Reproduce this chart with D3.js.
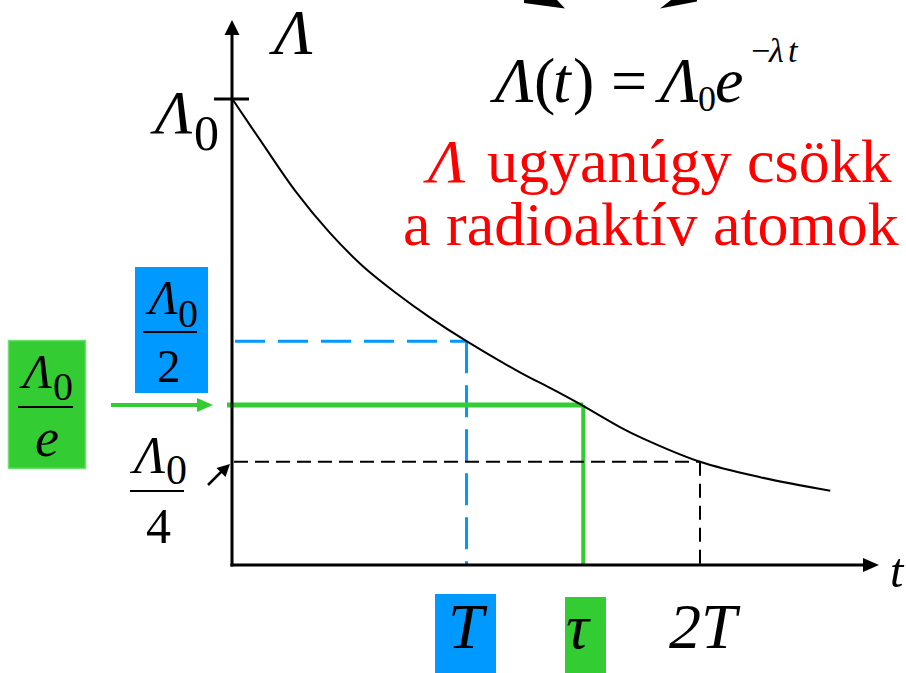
<!DOCTYPE html>
<html>
<head>
<meta charset="utf-8">
<script src="https://cdn.jsdelivr.net/npm/d3@7/dist/d3.min.js"></script>
<style>
  html, body { margin: 0; padding: 0; background: #fff; overflow: hidden; }
  #wrap { position: relative; width: 906px; height: 673px; overflow: hidden; }
  #chart { position: absolute; left: 0; top: 0; display: block; }
  #labels { position: absolute; left: 0; top: 0; width: 906px; height: 673px; overflow: hidden; pointer-events: none; }
</style>
</head>
<body>
<div id="wrap">
  <svg id="chart" width="906" height="673"></svg>
  <div id="labels"></div>
</div>
<script>
// Activity decay curve: time in units of the half-life T, activity relative to Λ0
const curveT = [0, 0.126, 0.269, 0.412, 0.555, 0.698, 0.841, 1.0, 1.227, 1.370, 1.492, 1.657, 1.757, 2.0, 2.258, 2.558];
const curveL = [1.0, 0.910, 0.810, 0.726, 0.656, 0.600, 0.550, 0.5, 0.436, 0.400, 0.368, 0.322, 0.298, 0.25, 0.218, 0.190];

// Reference times on the t axis and the matching activity levels
const markNames = ["T", "τ", "2T"];
const markTimes = [1, 1.5, 2];
const markLevels = [0.5, 0.368, 0.25];

const svg = d3.select("#chart");
const layer = d3.select("#labels");
const W = 906, H = 673;
svg.append("rect").attr("width", W).attr("height", H).attr("fill", "#fff");

// Serif labels placed by their baseline origin. Large sizes are set at a
// smaller font size and scaled up.
function label(xPos, yPos, size, str, opts = {}) {
  const base = Math.min(size, 34);
  const k = size / base;
  const holder = layer.append("div")
    .style("position", "absolute")
    .style("left", xPos + "px").style("top", yPos + "px")
    .style("width", "0px").style("height", "0px")
    .style("transform-origin", "0 0")
    .style("transform", `scale(${k})`);
  const span = holder.append("span")
    .style("position", "absolute").style("left", "0px").style("top", "0px")
    .style("font-family", '"Liberation Serif"')
    .style("font-size", base + "px")
    .style("line-height", "normal")
    .style("font-style", opts.italic ? "italic" : "normal")
    .style("color", opts.fill || "#000")
    .style("white-space", "nowrap")
    .text(str);
  const probe = span.append("span")
    .style("display", "inline-block").style("width", "0px").style("height", "0px");
  const baselineOffset = probe.node().offsetTop;
  span.style("top", (-baselineOffset) + "px");
  return holder;
}

const x = d3.scaleLinear().domain([0, 2]).range([233, 700]);
const y = d3.scaleLinear().domain([0, 1]).range([582.4, 100]);
const axisY = 565;
const axisX = x(0) - 1;

const green = "#33cc33", blue = "#0099ff";

// curved arrow tips entering from above
svg.append("path").attr("d", "M524,0 L557,0 L565,8.5 L524,3 Z").attr("fill", "#000");
svg.append("path").attr("d", "M660,8.5 L671,0 L697,0 L697,1.5 Z").attr("fill", "#000");

// half-life (blue dashed)
svg.append("line")
  .attr("x1", axisX + 3).attr("x2", x(markTimes[0]))
  .attr("y1", y(markLevels[0])).attr("y2", y(markLevels[0]))
  .attr("stroke", blue).attr("stroke-width", 3).attr("stroke-dasharray", "30,13");
svg.append("line")
  .attr("x1", x(markTimes[0])).attr("x2", x(markTimes[0]))
  .attr("y1", y(markLevels[0])).attr("y2", axisY)
  .attr("stroke", blue).attr("stroke-width", 3).attr("stroke-dasharray", "32,12");
// mean lifetime (green solid)
svg.append("line")
  .attr("x1", 227).attr("x2", x(markTimes[1]))
  .attr("y1", y(markLevels[1])).attr("y2", y(markLevels[1]))
  .attr("stroke", green).attr("stroke-width", 5);
svg.append("line")
  .attr("x1", x(markTimes[1])).attr("x2", x(markTimes[1]))
  .attr("y1", y(markLevels[1])).attr("y2", axisY)
  .attr("stroke", green).attr("stroke-width", 4);
// two half-lives (black dashed)
svg.append("line")
  .attr("x1", axisX + 2).attr("x2", x(markTimes[2]))
  .attr("y1", y(markLevels[2])).attr("y2", y(markLevels[2]))
  .attr("stroke", "#000").attr("stroke-width", 2).attr("stroke-dasharray", "14,7");
svg.append("line")
  .attr("x1", x(markTimes[2])).attr("x2", x(markTimes[2]))
  .attr("y1", y(markLevels[2])).attr("y2", axisY)
  .attr("stroke", "#000").attr("stroke-width", 2).attr("stroke-dasharray", "14,8");

// decay curve
const line = d3.line().x(d => x(d[0])).y(d => y(d[1])).curve(d3.curveCatmullRom.alpha(0.5));
svg.append("path")
  .datum(curveT.map((t, i) => [t, curveL[i]]))
  .attr("d", line)
  .attr("fill", "none").attr("stroke", "#000").attr("stroke-width", 2);

// axes with arrowheads
svg.append("line").attr("x1", axisX).attr("x2", axisX).attr("y1", axisY + 1.5).attr("y2", 32)
  .attr("stroke", "#000").attr("stroke-width", 3);
svg.append("path").attr("d", `M${axisX},20 L${axisX - 7.5},35 L${axisX + 7.5},35 Z`).attr("fill", "#000");
svg.append("line").attr("x1", axisX - 1.5).attr("x2", 866).attr("y1", axisY).attr("y2", axisY)
  .attr("stroke", "#000").attr("stroke-width", 3);
svg.append("path").attr("d", `M879,${axisY} L863,${axisY - 7} L863,${axisY + 7} Z`).attr("fill", "#000");

// Λ0 tick
svg.append("line").attr("x1", 214).attr("x2", 249).attr("y1", y(1) - 1).attr("y2", y(1) - 1)
  .attr("stroke", "#000").attr("stroke-width", 3);

// label boxes behind the fractions and time marks
const levelBoxes = [[135, 267, 73, 126, blue, "none"], [8.5, 340.5, 77, 128, green, "#6fe06f"]];
levelBoxes.forEach(b => {
  svg.append("rect").attr("x", b[0]).attr("y", b[1]).attr("width", b[2]).attr("height", b[3])
    .attr("fill", b[4]).attr("stroke", b[5]).attr("stroke-width", 1.5);
});
const tBoxes = [[435, 594, 61, 79], [565, 597, 41, 76], null];
tBoxes.forEach((b, i) => {
  if (b) svg.append("rect").attr("x", b[0]).attr("y", b[1]).attr("width", b[2]).attr("height", b[3])
    .attr("fill", i === 0 ? blue : green);
});

// fraction bars
const fracBars = [[143, 197, 332], [18, 73, 407], [130, 184, 491]];
fracBars.forEach(b => {
  svg.append("line").attr("x1", b[0]).attr("x2", b[1]).attr("y1", b[2]).attr("y2", b[2])
    .attr("stroke", "#000").attr("stroke-width", 2);
});

// arrows pointing at the axis levels
svg.append("line").attr("x1", 111).attr("x2", 200).attr("y1", y(markLevels[1])).attr("y2", y(markLevels[1]))
  .attr("stroke", green).attr("stroke-width", 4);
svg.append("path").attr("d", `M213,${y(markLevels[1])} L197,${y(markLevels[1]) - 7} L197,${y(markLevels[1]) + 7} Z`)
  .attr("fill", green);
svg.append("line").attr("x1", 208).attr("y1", 485).attr("x2", 222).attr("y2", 471)
  .attr("stroke", "#000").attr("stroke-width", 2.5);
svg.append("path").attr("d", "M230,464 L225.5,477 L216.5,468 Z").attr("fill", "#000");

// Λ with subscript 0
function lambda0(lx, base, fs, subX, subBase, subFs) {
  label(lx, base, fs, "Λ", { italic: true });
  label(subX, subBase, subFs, "0");
}

// axis labels
label(274, 54, 64, "Λ", { italic: true });
label(890, 587, 48, "t", { italic: true });
lambda0(155, 133, 62, 194, 150, 50);

// formula Λ(t) = Λ0 e^(−λt)
label(495, 102, 64, "Λ", { italic: true });
label(534, 102, 64, "(");
label(553, 102, 64, "t", { italic: true });
label(573, 102, 64, ")");
label(611, 102, 64, "=");
label(660, 102, 64, "Λ", { italic: true });
label(698, 111, 36, "0");
label(715, 102, 64, "e", { italic: true });
label(751, 62, 34, "−");
label(769, 62, 34, "λ", { italic: true });
label(788, 62, 34, "t", { italic: true });

// red statement
label(428, 182, 62, "Λ", { italic: true, fill: "#ff0000" });
label(487, 182, 62, "ugyanúgy csökk", { fill: "#ff0000" });
label(403, 245, 62, "a radioaktív atomok", { fill: "#ff0000" });

// level fractions: Λ0/2, Λ0/e, Λ0/4
lambda0(149, 314, 48, 178, 327, 40);
label(157, 382, 47, "2");
lambda0(23, 388, 48, 53, 400, 40);
label(35, 456, 54, "e", { italic: true });
lambda0(134, 473, 52, 166, 484, 42);
label(146, 543, 50, "4");

// time labels under the axis
const tLabelX = [448, 566, 669];
markNames.forEach((name, i) => label(tLabelX[i], 648, 64, name, { italic: true }));
</script>
</body>
</html>
